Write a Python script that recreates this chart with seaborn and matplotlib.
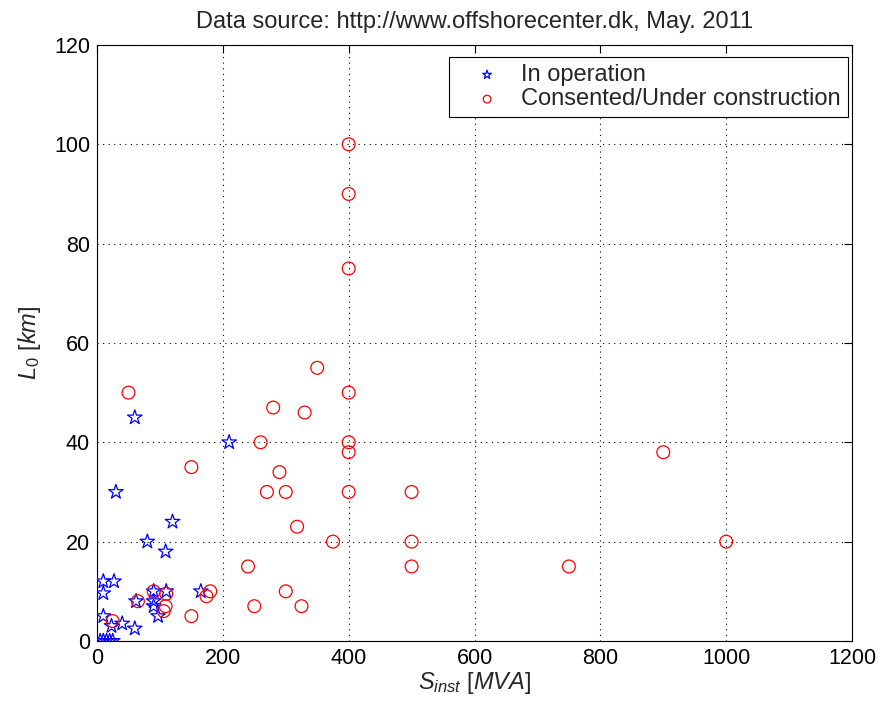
import matplotlib
matplotlib.use("Agg")
import matplotlib.pyplot as plt
import seaborn as sns
import pandas as pd

# Offshore wind farms: installed power vs. distance to shore
oper_s = [30, 120, 80, 109, 10, 27, 10, 90, 110, 165, 62, 90, 90, 97, 10, 23, 40, 60,
          5, 10, 15, 20, 25, 60, 210]
oper_l = [30, 24, 20, 18, 12, 12, 9.6, 10, 10, 10, 8, 8, 7, 5, 5, 3, 3.5, 2.5,
          0, 0, 0, 0, 0, 45, 40]

cons_s = [150, 240, 90, 110, 180, 174, 65, 109, 106, 150, 25, 50, 400, 400, 400, 350,
          400, 280, 330, 260, 400, 400, 290, 270, 300, 400, 500, 318, 375, 500, 500,
          750, 900, 1000, 250, 300, 325]
cons_l = [35, 15, 10, 9.5, 10, 9, 8, 7, 6, 5, 4, 50, 100, 90, 75, 55,
          50, 47, 46, 40, 40, 38, 34, 30, 30, 30, 30, 23, 20, 20, 15,
          15, 38, 20, 7, 10, 7]

labels = ["In operation", "Consented/Under construction"]

df = pd.concat([
    pd.DataFrame({"S": oper_s, "L": oper_l, "status": labels[0]}),
    pd.DataFrame({"S": cons_s, "L": cons_l, "status": labels[1]}),
], ignore_index=True)

sns.set_theme(style="white")
plt.rcParams["font.family"] = ["Liberation Sans", "DejaVu Sans"]
plt.rcParams["mathtext.fontset"] = "custom"
plt.rcParams["mathtext.rm"] = "Liberation Sans"
plt.rcParams["mathtext.it"] = "Liberation Sans:italic"

fig = plt.figure(figsize=(8.82, 7.07), dpi=100)
ax = fig.add_axes([0.110, 0.0934, 0.856, 0.843])

sub = df[df.status == labels[0]]
sns.scatterplot(data=sub, x="S", y="L", ax=ax, marker="*", s=120,
                facecolor="none", edgecolor="blue", linewidth=0.9,
                label=labels[0], zorder=3)
sub = df[df.status == labels[1]]
sns.scatterplot(data=sub, x="S", y="L", ax=ax, marker="o", s=85,
                facecolor="none", edgecolor="red", linewidth=0.9,
                label=labels[1], zorder=3)

ax.set_xlim(0, 1200)
ax.set_ylim(0, 120)
ax.set_xticks(range(0, 1201, 200))
ax.set_yticks(range(0, 121, 20))
ax.grid(True, color="black", linestyle=(0, (1, 4)), linewidth=0.8)
ax.tick_params(direction="in", length=6, width=0.8, labelsize=15.5,
               top=True, right=True, colors="black", pad=5)
for sp in ax.spines.values():
    sp.set_color("black")
    sp.set_linewidth(0.8)

ax.set_xlabel(r"$S_{inst}$ [$MVA$]", fontsize=17, labelpad=1)
ax.set_ylabel(r"$L_{0}$ [$km$]", fontsize=17, labelpad=8)
ax.set_title("Data source: http://www.offshorecenter.dk, May. 2011",
             fontsize=17, pad=12)

leg = ax.legend(loc="upper right", bbox_to_anchor=(0.9947, 0.98),
                fontsize=17, fancybox=False, framealpha=1,
                edgecolor="black", markerscale=0.6, handletextpad=0.15,
                handlelength=2.6, borderaxespad=0.0, labelspacing=0.1,
                borderpad=0.3)
leg.get_frame().set_linewidth(0.8)

fig.savefig("out.png", dpi=100)
